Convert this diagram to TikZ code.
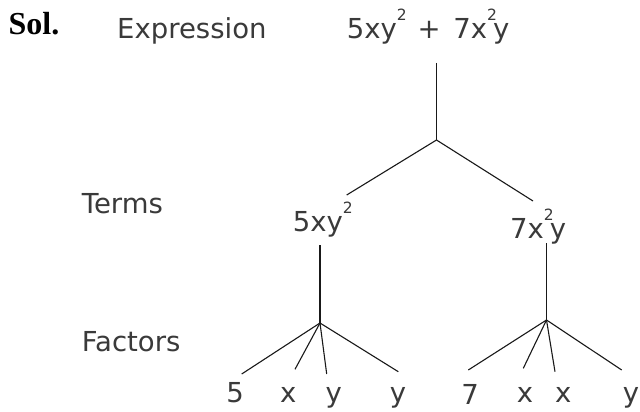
\documentclass[tikz,border=0pt]{standalone}
\usepackage{fontspec}
\setmainfont{Liberation Serif}
\newfontfamily\tahfont{DejaVu Sans}
\definecolor{txtgray}{HTML}{3A3A3A}
\newcommand{\supn}[1]{\raisebox{18pt}{\fontsize{15.5}{16}\selectfont #1}}
\begin{document}
\begin{tikzpicture}[x=1pt,y=-1pt,
  lbl/.style={font=\tahfont\fontsize{27.5}{31}\selectfont, text=txtgray, inner sep=0pt},
  sol/.style={font=\fontsize{32}{35}\selectfont\bfseries, inner sep=0pt},
  edge/.style={draw=black!90, line width=1.1pt}]
\useasboundingbox[fill=white] (0,0) rectangle (640,412);

% labels
\node[sol, anchor=base west] (sol) at (8.5,35) {Sol.};
\node[lbl, anchor=base west] (lexpr) at (117,38.3) {Expression};
\node[lbl, anchor=base west] (lterms) at (81.7,213.3) {Terms};
\node[lbl, anchor=base west] (lfact) at (81.7,351) {Factors};

% expression and terms
\node[lbl, anchor=base west] (expr) at (346.7,38.3) {5xy\supn{2}\kern2pt{} + \kern4pt 7x\rlap{\supn{2}}\kern6pt y};
\node[lbl, anchor=base west] (t1) at (292.7,231.7) {5xy\supn{2}};
\node[lbl, anchor=base west] (t2) at (510,238.3) {7x\rlap{\supn{2}}\kern6pt y};

% factors
\node[lbl, anchor=base] (f1) at (235,402.7) {5};
\node[lbl, anchor=base] (f2) at (288.3,402.7) {x};
\node[lbl, anchor=base] (f3) at (333.8,402.7) {y};
\node[lbl, anchor=base] (f4) at (398,402.7) {y};
\node[lbl, anchor=base] (f5) at (470,404.5) {7};
\node[lbl, anchor=base] (f6) at (525,402.7) {x};
\node[lbl, anchor=base] (f7) at (563.3,402.7) {x};
\node[lbl, anchor=base] (f8) at (631,402.7) {y};

% connector points
\coordinate (e0) at (436.5,63);
\coordinate (j0) at (436.5,140);
\coordinate (a1) at (346.7,195);
\coordinate (a2) at (533,201);
\coordinate (t1b) at (320,245);
\coordinate (j1) at (320,323);
\coordinate (t2b) at (546.5,243);
\coordinate (j2) at (546.5,320);
\coordinate (b1) at (241.7,374);
\coordinate (b2) at (295,369.3);
\coordinate (b3) at (326.7,374);
\coordinate (b4) at (398.3,371.7);
\coordinate (b5) at (468.3,370);
\coordinate (b6) at (523.3,368.3);
\coordinate (b7) at (555,371.7);
\coordinate (b8) at (621.7,370);

\draw[edge] (e0) -- (j0);
\draw[edge] (j0) -- (a1);
\draw[edge] (j0) -- (a2);
\draw[edge] (t1b) -- (j1);
\draw[edge] (t2b) -- (j2);
\foreach \b in {b1,b2,b3,b4} \draw[edge] (j1) -- (\b);
\foreach \b in {b5,b6,b7,b8} \draw[edge] (j2) -- (\b);
\end{tikzpicture}
\end{document}
